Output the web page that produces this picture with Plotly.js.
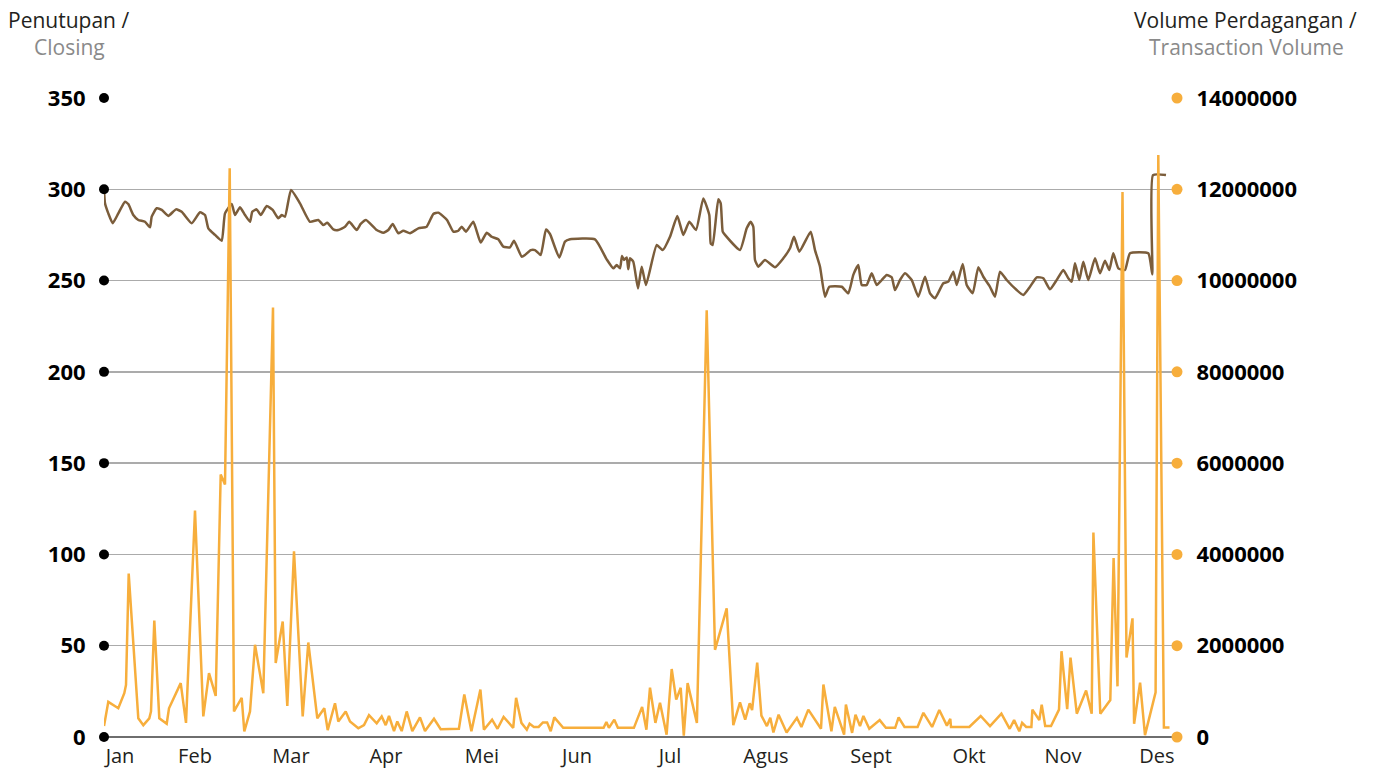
<!DOCTYPE html>
<html>
<head>
<meta charset="utf-8">
<script src="https://cdn.plot.ly/plotly-3.0.1.min.js"></script>
<style>html,body{margin:0;padding:0;background:#fff;}#chart{width:1376px;height:771px;}</style>
</head>
<body>
<div id="chart"></div>
<script>
// Month labels and their positions on the trading-time index
const months = ["Jan","Feb","Mar","Apr","Mei","Jun","Jul","Agus","Sept","Okt","Nov","Des"];
const monthT = [3.2,18.2,37.4,56.4,75.6,94.6,113.2,132.4,153.4,173,191.8,210.6];

// Axis ticks
const priceTicks = [0,50,100,150,200,250,300,350];
const volTicks = [0,2000000,4000000,6000000,8000000,10000000,12000000,14000000];

// Closing price (Penutupan / Closing)
const priceT = [
0,0.2,0.86,1.74,2.86,4.2,4.86,5.86,6.86,8.2,
9.2,9.54,10.54,11.54,12.86,14.4,15.54,17.54,19.2,20.2,
20.86,22.2,23.54,24.2,25.54,26.2,27.2,28.2,29.2,29.66,
30.54,31.34,32.54,33.74,34.86,35.54,36.2,37.4,39.2,41.2,
42.86,43.86,44.66,45.86,46.86,48.2,49.06,50.54,51.34,52.4,
54.54,55.86,56.86,57.74,58.86,59.86,61.2,62.86,64.54,65.86,
66.86,68.6,69.86,70.86,71.54,72.4,73.86,75.34,76.54,77.54,
78.86,79.86,81.2,82,83.54,84.2,85.34,86.2,87.34,88.4,
89.2,91.06,92.2,93.2,98.2,100.54,101.86,102.54,103.2,103.6,
104,104.54,104.86,105.2,105.86,106.8,107.54,108.4,110.54,111.74,
113.2,114.66,115.86,117.06,118.4,119.86,121.06,121.34,121.74,122.86,
123.34,123.74,124.2,127.2,128.54,129.34,129.86,130.2,130.86,132.2,
134.2,135.86,137.2,138,139.06,141.34,142.2,143.2,144.2,145.06,
147.54,148.86,149.86,150.86,151.54,152.54,153.54,154.54,155.54,156.54,
157.54,158.2,159.2,160.2,161.54,162.86,164.2,165.2,166.2,167.86,
168.86,169.86,170.54,171.74,172.54,173.74,174.86,175.86,177.2,178.2,
179.2,180.54,182.54,183.86,185.2,186.54,187.86,189.2,190.54,191.86,
192.86,193.54,194.2,195.06,195.86,196.86,198.2,199.2,200.2,201.06,
201.86,202.86,204.2,205.2,208.86,209.66,209.8,212.4
];
const priceClose = [
299.6,292.3,286.8,281.4,286.8,293.2,291.9,285.9,283.2,282.2,
279.2,285,289.6,288.7,285.4,289,287.7,281.4,287.4,285.9,
278.6,275,271.8,286.8,291.9,285.9,290.1,285.9,282.2,287.7,
289,285.9,290.8,288.7,284.1,285.9,285,299.6,292.3,282.2,
283.2,280.4,281.7,278,277.7,279.5,282.2,277.7,281,283.2,
277.7,276.2,277.7,281,275.9,277.3,275.9,278.6,279.5,286.5,
287.2,283.2,276.8,277.3,279.5,276.8,282.2,270.8,276.2,274,
272.6,268.6,268.2,271.8,263.1,264,266.7,266.7,264,278,
275.5,262.6,271.3,272.6,272.6,261.6,256.7,258.5,256.7,263.5,
261.3,262.7,256.2,262.2,260.3,245.7,257.6,247.6,269.5,266.7,
274,285.4,275,282.2,277.7,295,285.9,270.4,269.5,294.5,
292.3,276.8,275,266.7,278.6,282.2,279.5,261.3,257.6,261.3,
257.3,262.2,267.7,274,265.8,276.8,266.7,257.6,241.2,246.6,
246.6,243,253.1,258.5,247.6,247.6,254,247.6,250.3,253.1,
251.8,244.8,250.3,254,250.3,241.2,252.1,243,240.3,248.5,
249.4,254.9,247.6,259.1,247.6,243,257.3,252.1,246.6,241.2,
254.9,250.3,244.8,242.1,246.6,251.8,251.3,245.2,250.3,255.8,
251.3,249.4,259.5,250.3,260.3,250.3,262.2,254,260.9,255.8,
265,256.7,255.8,265,265,253.4,307.8,307.8
];

// Transaction volume (Volume Perdagangan / Transaction Volume)
const volT = [
0,0.86,2.86,4.06,4.4,4.94,6.86,7.86,9.06,9.4,
10.06,11.06,12.54,13,15.34,16.4,18.2,19.86,21,22.34,
23.34,24.2,25.14,26,27.54,28.06,29.2,30.2,31.86,33.8,
34.34,35.74,36.66,38,39.74,40.86,42.66,44.06,44.74,46.2,
46.86,48.34,49.2,50.86,52,53,54.54,55.54,56.34,57,
58,58.66,59.54,60.54,61.66,63.2,64.2,66,67.34,
70.98,72.06,73.48,75.28,75.98,77.62,78.7,79.92,81.84,82.42,
83.48,84.56,85.12,85.98,86.92,87.78,88.62,89.34,90.06,91.84,
99.92,100.48,100.98,102.06,102.78,105.98,107.62,108.48,109.2,110.28,
111.2,
112.52,113.54,114.44,115.34,115.96,116.72,118.58,120.54,122.2,124.54,
125.86,127.2,128.24,129.14,129.62,130.64,131.48,132.58,133.26,133.88,
134.92,136.52,138.58,139.48,140.86,143.4,143.88,145.48,146.16,148.02,
148.38,149.62,150.3,151.2,151.88,153.06,155.14,156.38,158.24,158.92,
160.1,162.72,163.88,165.62,167.06,168.58,169.26,169.4,173.06,175.34,
177.2,179.48,181.14,182.02,183.06,183.62,184.44,185.48,185.68,187.06,
187.54,188.24,189.4,191,
191.5,192.64,193.3,194.56,196.42,197.54,197.88,199.26,201.26,201.92,
202.7,203.7,204.5,205.7,206.02,207.22,208.2,210.32,210.86,211.98,
213.1
];
const volume = [
240000,770000,630000,960000,1140000,3580000,410000,260000,410000,560000,
2550000,410000,290000,630000,1180000,310000,4960000,450000,1400000,900000,
5750000,5530000,12460000,560000,860000,120000,560000,2020000,960000,9410000,
1620000,2530000,680000,4070000,450000,2070000,410000,630000,150000,740000,
340000,560000,340000,190000,260000,480000,300000,450000,260000,460000,
130000,340000,130000,560000,130000,430000,130000,400000,170000,
180000,930000,125000,1040000,160000,380000,180000,440000,200000,860000,
310000,160000,290000,220000,220000,320000,320000,125000,430000,200000,
200000,330000,200000,380000,200000,200000,660000,160000,1080000,310000,
750000,
50000,1490000,820000,1080000,30000,1180000,310000,9350000,1910000,2820000,
260000,760000,380000,740000,590000,1630000,470000,240000,420000,100000,
490000,100000,420000,220000,600000,180000,1150000,125000,660000,50000,
710000,90000,490000,240000,460000,180000,370000,200000,200000,430000,
220000,220000,530000,220000,590000,250000,400000,220000,220000,460000,
240000,510000,180000,370000,125000,310000,220000,220000,600000,370000,
710000,240000,240000,600000,
1880000,610000,1740000,510000,1020000,510000,4480000,510000,810000,3920000,
1110000,11940000,1740000,2600000,290000,1190000,40000,980000,12750000,210000,
210000
];

const tMax = 214.6;
const ORANGE = "#F7AE3C";
const BROWN = "#7B5D3B";
const FONT = "Open Sans";

const traces = [
  {x: priceT, y: priceClose, type: "scatter", mode: "lines", yaxis: "y",
   line: {color: BROWN, width: 2.5, shape: "spline", smoothing: 0.45},
   hoverinfo: "skip", showlegend: false},
  {x: volT, y: volume, type: "scatter", mode: "lines", yaxis: "y2",
   line: {color: ORANGE, width: 2.5},
   hoverinfo: "skip", showlegend: false},
  {x: priceTicks.map(() => 0), y: priceTicks, type: "scatter", mode: "markers", yaxis: "y",
   marker: {color: "#000", size: 10}, cliponaxis: false, hoverinfo: "skip", showlegend: false},
  {x: volTicks.map(() => tMax), y: volTicks, type: "scatter", mode: "markers", yaxis: "y2",
   marker: {color: ORANGE, size: 11}, cliponaxis: false, hoverinfo: "skip", showlegend: false}
];

const layout = {
  width: 1376, height: 771,
  margin: {l: 104, r: 199, t: 98, b: 34, pad: 0},
  paper_bgcolor: "#fff", plot_bgcolor: "#fff",
  font: {family: FONT, color: "#231f20"},
  xaxis: {
    range: [0, tMax], tickmode: "array", tickvals: monthT, ticktext: months,
    showgrid: false, zeroline: false, showline: false,
    ticks: "outside", ticklen: 1, tickcolor: "rgba(0,0,0,0)",
    tickfont: {family: FONT, size: 20, color: "#231f20"}
  },
  yaxis: {
    range: [0, 350], tickmode: "array", tickvals: priceTicks, ticktext: priceTicks.map(String),
    showgrid: true, gridcolor: "#ababab", gridwidth: 1.5,
    zeroline: true, zerolinecolor: "#6e6e6e", zerolinewidth: 1.5, showline: false,
    ticks: "outside", ticklen: 13, tickcolor: "rgba(0,0,0,0)",
    tickfont: {family: FONT, size: 22, color: "#000", weight: "bold"}
  },
  yaxis2: {
    range: [0, 14000000], overlaying: "y", side: "right",
    tickmode: "array", tickvals: volTicks, ticktext: volTicks.map(String),
    showgrid: false, zeroline: false, showline: false,
    ticks: "outside", ticklen: 14, tickcolor: "rgba(0,0,0,0)",
    tickfont: {family: FONT, size: 22, color: "#000", weight: "bold"}
  },
  annotations: [
    {text: "Penutupan /", xref: "paper", yref: "paper", x: 0, y: 1, xanchor: "center", yanchor: "middle",
     xshift: -36, yshift: 78, showarrow: false, font: {family: FONT, size: 21, color: "#231f20"}},
    {text: "Closing", xref: "paper", yref: "paper", x: 0, y: 1, xanchor: "center", yanchor: "middle",
     xshift: -35, yshift: 51, showarrow: false, font: {family: FONT, size: 21, color: "#8a8a8a"}},
    {text: "Volume Perdagangan /", xref: "paper", yref: "paper", x: 1, y: 1, xanchor: "center", yanchor: "middle",
     xshift: 68, yshift: 78, showarrow: false, font: {family: FONT, size: 21, color: "#231f20"}},
    {text: "Transaction Volume", xref: "paper", yref: "paper", x: 1, y: 1, xanchor: "center", yanchor: "middle",
     xshift: 69, yshift: 51, showarrow: false, font: {family: FONT, size: 21, color: "#8a8a8a"}}
  ]
};

Plotly.newPlot("chart", traces, layout, {displayModeBar: false, staticPlot: true});
</script>
</body>
</html>
